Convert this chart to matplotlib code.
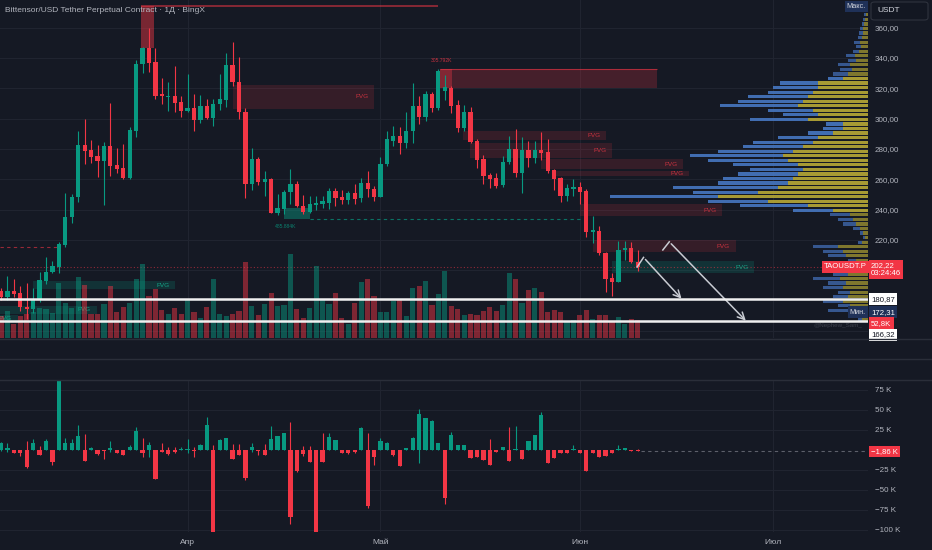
import numpy as np
import matplotlib
matplotlib.use('Agg')
import matplotlib.pyplot as plt
from matplotlib.patches import Rectangle, FancyBboxPatch
from matplotlib.lines import Line2D
from matplotlib.ticker import FuncFormatter

plt.rcParams['font.family'] = ['Liberation Sans', 'DejaVu Sans']

BG = '#151924'
GRID = '#212531'
TXT = '#b2b5be'
UP = '#089981'
DN = '#f23645'
NAVY = '#1f3158'

# daily candles, 3 Mar .. 10 Jun (index 0 = 3 Mar)
opens = [185.9, 182.0, 186.2, 184.7, 175.8, 174.1, 180.2, 193.0, 198.9, 201.9,
         216.6, 234.9, 248.1, 282.6, 279.3, 275.3, 272.0, 282.1, 269.2, 267.4,
         260.6, 292.0, 335.8, 346.4, 337.4, 316.0, 314.6, 315.0, 311.0, 305.0,
         307.2, 299.1, 308.3, 300.2, 309.4, 312.3, 335.2, 324.2, 304.6, 256.6,
         273.1, 258.2, 260.1, 237.9, 240.5, 251.4, 256.8, 242.5, 238.5, 243.0,
         243.8, 244.6, 252.2, 248.3, 246.3, 250.8, 247.4, 257.7, 253.3, 248.4,
         270.0, 285.1, 288.7, 283.7, 291.8, 308.3, 301.2, 316.0, 306.8, 318.0,
         320.0, 309.0, 293.6, 304.2, 285.2, 273.1, 262.8, 261.0, 256.2, 271.2,
         279.7, 263.9, 279.3, 274.2, 279.3, 277.8, 266.1, 260.6, 249.1, 253.6,
         255.0, 252.2, 225.0, 225.8, 211.5, 194.6, 192.3, 213.3, 214.8, 205.6]
highs = [188.0, 195.8, 194.0, 189.5, 191.3, 188.0, 199.0, 208.4, 206.0, 218.8,
         250.7, 250.2, 292.0, 299.5, 285.9, 282.6, 284.8, 310.5, 280.4, 283.2,
         294.7, 338.7, 347.5, 359.6, 346.4, 326.6, 324.4, 334.7, 315.0, 329.4,
         316.2, 315.6, 313.0, 313.0, 329.4, 343.5, 350.4, 340.5, 306.8, 280.8,
         274.9, 265.4, 260.6, 250.0, 252.9, 266.5, 258.8, 249.6, 248.9, 248.9,
         248.9, 254.0, 254.4, 252.9, 252.2, 256.8, 260.6, 265.6, 255.5, 274.9,
         291.8, 295.1, 294.2, 304.6, 323.3, 315.0, 318.2, 317.8, 332.5, 328.7,
         321.5, 312.0, 309.0, 307.9, 286.3, 276.0, 264.3, 263.9, 275.3, 288.5,
         292.9, 287.7, 285.4, 285.4, 291.4, 286.3, 266.5, 261.3, 256.8, 260.0,
         258.4, 253.3, 235.9, 229.3, 212.2, 197.9, 219.2, 219.2, 218.4, 213.3]
lows = [180.0, 180.0, 182.0, 173.2, 168.0, 172.0, 179.0, 191.0, 197.9, 197.9,
        215.4, 231.3, 245.2, 270.0, 270.5, 261.6, 243.0, 262.3, 264.3, 260.0,
        260.0, 288.0, 330.3, 331.0, 313.0, 309.4, 305.0, 304.5, 300.9, 304.2,
        292.0, 297.3, 299.5, 295.0, 305.7, 307.4, 321.5, 299.9, 247.4, 252.9,
        256.2, 248.9, 237.5, 236.4, 237.0, 243.6, 241.8, 237.0, 238.0, 239.7,
        240.8, 240.1, 242.5, 243.6, 243.6, 243.6, 245.0, 248.0, 245.6, 248.0,
        268.9, 281.9, 276.4, 280.4, 283.7, 296.2, 298.6, 304.6, 306.0, 312.0,
        303.5, 291.0, 292.0, 284.1, 267.6, 256.8, 254.0, 254.0, 255.0, 270.0,
        261.6, 250.7, 267.9, 270.9, 272.7, 264.3, 252.9, 245.0, 245.8, 248.9,
        243.6, 222.0, 218.0, 210.0, 185.7, 182.9, 192.0, 206.7, 204.5, 199.6]
closes = [182.0, 186.2, 184.4, 175.9, 174.1, 180.7, 193.4, 198.9, 202.4, 217.0,
          234.9, 248.5, 282.6, 278.8, 274.8, 272.2, 282.1, 268.9, 266.9, 260.6,
          292.5, 336.0, 346.4, 336.9, 315.1, 315.0, 315.2, 310.5, 305.0, 307.2,
          299.1, 308.3, 300.2, 309.6, 312.7, 335.2, 324.2, 304.6, 256.6, 273.1,
          258.4, 260.1, 237.9, 241.2, 251.8, 256.8, 242.5, 238.5, 243.6, 244.6,
          245.4, 252.2, 247.8, 246.3, 250.8, 247.0, 257.7, 253.3, 248.4, 270.0,
          286.3, 288.7, 283.7, 292.0, 308.3, 301.2, 316.0, 306.8, 331.5, 321.0,
          308.6, 293.6, 304.2, 284.8, 272.7, 262.3, 260.1, 255.7, 271.6, 279.7,
          263.9, 279.3, 274.2, 279.3, 277.5, 265.6, 260.1, 249.1, 254.0, 254.9,
          251.7, 225.0, 226.3, 211.1, 194.1, 192.3, 213.3, 214.8, 205.2, 202.22]
volume_k = [64, 79, 41, 64, 70, 76, 88, 85, 73, 161,
            103, 88, 179, 155, 70, 70, 100, 152, 76, 91,
            103, 173, 217, 123, 144, 82, 70, 88, 70, 114,
            76, 59, 91, 173, 70, 64, 70, 79, 223, 94,
            67, 100, 132, 94, 97, 246, 85, 59, 88, 211,
            111, 100, 132, 59, 41, 103, 164, 173, 123, 76,
            76, 108, 114, 64, 147, 152, 167, 97, 129, 196,
            94, 85, 67, 70, 67, 79, 91, 79, 97, 190,
            173, 103, 141, 147, 135, 76, 82, 76, 50, 53,
            67, 82, 56, 67, 67, 50, 62, 41, 56, 52.8]

# lower pane: delta candles (open at 0), in K
delta_close = [9, 2, -3.3, -4.2, -21, 8.3, -6.7, 11.7, -15, 86,
               9.2, 9.2, 17.5, -13.3, 2.5, -5, -1, 2.5, -4.2, -6.7,
               3.3, 24, -3.3, 6.3, -36.7, -2.5, -5, -2, 1.7, 1.2,
               -1.2, 5.8, 31, -102, 12.5, 14.6, -11.7, -6.7, -34.6, 4.2,
               -1.7, -6.7, 13.3, 17.5, 20.8, -84.2, -25.8, -5, -15.4, -102,
               -15.4, 16.7, 12.5, -4.2, -4, -3, 28, -70, -9, 11.7,
               9, -6, -20, 2.5, 15, 45, 40, 36.7, 9, -60.4,
               19, 6, 6, -9.6, -8.3, -12.5, -18.3, -3, 3.3, -13.3,
               0.8, -11.7, 10.8, 18.8, 43.3, -15.8, -10, -3.3, -4.2, 1,
               -3.3, -25.8, -3.3, -9.2, -7.5, -3.3, 1.2, 2.5, -1.7, -1.86]
delta_high = [10, 9, 0.5, 0, 11.7, 13.3, 5, 13.3, 0, 90,
              15.4, 13.8, 31, 20, 4, 0, 0, 11.3, 0, 0,
              6.3, 28.3, 14.6, 10, 0, 8.3, 3.3, 4.2, 3.3, 13.3,
              4.2, 7.5, 41.7, 6.3, 14.2, 15, 7.5, 7.5, 0, 8.3,
              0, 7.5, 30, 17.5, 20.8, 34.6, 0, 5, 5, 0,
              21.7, 20.8, 13, 0, 0, 0, 29, 21.7, 0, 14.6,
              10, 0, 0, 3, 16, 51.7, 40, 37, 9, 0,
              22.9, 6, 6, 0, 0, 0, 13.8, 0, 3.3, 29,
              30, 0, 10.8, 18.8, 48, 0, 0, 0, 0, 6.3,
              0, 0, 0, 0, 0, 0, 6, 2.5, 0, 1.7]
delta_low = [-1, -2.5, -3.3, -8, -23, 0, -6.7, 0, -18.8, 0,
             0, 0, 0, -13.3, 0, -6.7, -11.7, -2, -4.2, -6.7,
             0, 0, -9.2, -8.3, -36.7, -2.5, -6.7, -4.2, 0, -3.3,
             -8.3, 0, 0, -102, 0, 0, -11.7, -6.7, -37.5, -2.5,
             -6.3, -6.7, 0, 0, 0, -92.5, -27, -7.5, -15.4, -102,
             -15.4, 0, 0, -4.2, -4.5, -3.5, 0, -72, -18.8, 0,
             0, -7, -20, 0, 0, -16.7, 0, 0, 0, -68,
             0, 0, 0, -9.6, -8.3, -12.5, -18.3, -3, 0, -13.3,
             0, -11.7, 0, 0, 0, -15.8, -10, -3.3, -4.2, 0,
             -3.3, -26.5, -3.3, -9.2, -7.5, -3.3, 0, 0, -1.7, -1.86]

# visible range volume profile (3 USDT rows)
prof_levels = np.arange(167.5, 372, 3)
prof_total = [10, 15, 40, 30, 45, 35, 30, 45, 40, 55,
              35, 30, 25, 20, 40, 45, 55, 10, 5, 8,
              15, 25, 30, 38, 75, 128, 160, 258, 175, 195,
              150, 145, 130, 118, 135, 160, 178, 150, 125, 115,
              90, 60, 45, 42, 118, 85, 100, 148, 130, 120,
              100, 95, 88, 40, 35, 28, 30, 20, 22, 15,
              12, 14, 10, 9, 8, 6, 5, 4, 2]
prof_up = [6, 10, 20, 18, 25, 20, 18, 25, 22, 28,
           20, 18, 15, 12, 22, 25, 30, 6, 3, 5,
           8, 12, 15, 18, 35, 60, 100, 150, 110, 90,
           80, 75, 70, 65, 70, 80, 85, 75, 65, 55,
           50, 35, 25, 25, 60, 50, 55, 70, 65, 60,
           55, 50, 50, 25, 20, 16, 18, 12, 13, 9,
           7, 8, 6, 5, 5, 4, 3, 2, 1]

month_pos = [29, 59, 90, 120]
month_labels = ['Апр', 'Май', 'Июн', 'Июл']

last_price = 202.22
level_hi = 180.87
level_lo = 166.32

W, H = 932, 550
PLOT_R = 868
MAIN_BOT = 338
LOW_TOP, LOW_BOT = 380, 532
XLIM = (-0.16, 134.8)


def fx(x):
    return x / W


def fy(y):
    return 1 - y / H


def draw_candles(a, o, h, l, c, width=0.66):
    o, h, l, c = map(np.asarray, (o, h, l, c))
    x = np.arange(len(o))
    col = np.where(c >= o, UP, DN)
    a.vlines(x, l, h, colors=col, linewidth=0.8, zorder=3)
    body = np.maximum(np.abs(c - o), 0.5)
    a.bar(x, body, width, bottom=np.minimum(o, c), color=col, linewidth=0, zorder=4)


def box(a, x0, x1, p0, p1, color, alpha, label=None, lcolor=None):
    a.add_patch(Rectangle((x0, p0), x1 - x0, p1 - p0, facecolor=color,
                          alpha=alpha, linewidth=0, zorder=2))
    if label:
        a.text(x1 - 0.9, (p0 + p1) / 2, label, ha='right', va='center',
               fontsize=4.6, color=lcolor, zorder=2.5)


fig = plt.figure(figsize=(W / 100, H / 100), dpi=100, facecolor=BG)
ax = fig.add_axes([0, fy(MAIN_BOT), fx(PLOT_R), 1 - fy(MAIN_BOT)])
axd = fig.add_axes([0, fy(LOW_BOT), fx(PLOT_R), fy(LOW_TOP) - fy(LOW_BOT)])

# overlays on the price pane (created first, twinx would move the ticks left)
axv = ax.twinx()
axv.set_axis_off()
axp = ax.twiny()
axp.set_axis_off()

for a in (ax, axd):
    a.set_facecolor(BG)
    for s in a.spines.values():
        s.set_visible(False)
    a.set_xlim(*XLIM)
    a.set_xticks(month_pos)
    a.grid(True, color=GRID, linewidth=0.7, zorder=0)
    a.set_axisbelow(True)
    a.yaxis.tick_right()
    a.yaxis.set_label_position('right')
    a.tick_params(axis='y', left=False, right=False, labelleft=False,
                  labelright=True, length=0, pad=5, labelsize=5.8,
                  labelcolor=TXT)

# ---- main pane
ax.set_ylim(155.2, 378.3)
ax.set_yticks(np.arange(160, 361, 20))
ax.yaxis.set_major_formatter(FuncFormatter(
    lambda v, _: f'{v:.2f}'.replace('.', ',') if v >= 219 else ''))
ax.tick_params(axis='x', length=0, labelbottom=False, labeltop=False)

# FVG zones
red_fvg = [(36.1, 58.0, 306.5, 322.2), (71.8, 94.1, 285.7, 291.6),
           (72.9, 95.0, 274.2, 283.7), (84.0, 106.1, 266.7, 273.3),
           (85.8, 107.0, 262.3, 265.2), (90.0, 112.1, 235.7, 243.6),
           (92.1, 114.2, 211.7, 219.9)]
green_fvg = [(95.0, 117.1, 197.9, 206.0), (5.0, 27.1, 187.5, 192.5),
             (-0.2, 14.9, 171.1, 176.3), (-0.2, 2.6, 165.6, 170.3)]
for x0, x1, p0, p1 in red_fvg:
    box(ax, x0, x1, p0, p1, DN, 0.15, 'FVG', '#c8323f')
for x0, x1, p0, p1 in green_fvg:
    box(ax, x0, x1, p0, p1, UP, 0.2, 'FVG', '#14a386')

# order blocks / swing marks
box(ax, 21.8, 23.8, 346.6, 374.5, DN, 0.45)
ax.hlines(374.5, 21.8, 68, colors=DN, linewidth=1.2, alpha=0.6, zorder=2)
box(ax, 68.3, 102.0, 320.0, 332.5, DN, 0.22)
box(ax, 68.3, 70.1, 320.0, 332.5, DN, 0.35)
ax.hlines(332.5, 68.3, 102.0, colors=DN, linewidth=0.8, alpha=0.6, zorder=2)
ax.text(68.5, 338.5, '305.792K', ha='center', va='center', fontsize=3.6,
        color=DN, alpha=0.8)
box(ax, 44.0, 48.0, 233.5, 241.2, UP, 0.45)
ax.text(44.3, 228.8, '485.884K', ha='center', va='center', fontsize=3.6,
        color=UP, alpha=0.8)
ax.hlines(233.5, 48, 90, colors=UP, linestyles=(0, (3, 3)), linewidth=0.8,
          alpha=0.7, zorder=2)
ax.hlines(215.5, -0.2, 8.7, colors=DN, linestyles=(0, (3, 3)), linewidth=0.8,
          alpha=0.6, zorder=2)
ax.axhline(last_price, color=DN, linewidth=0.8, linestyle=(0, (1, 2)),
           alpha=0.55, zorder=2)

draw_candles(ax, opens, highs, lows, closes)

# projected path arrows
ARW = '#c9ccd3'
for pts in ([(98.9, 202.0), (99.9, 208.4), (106.1, 179.8)],
            [(102.9, 213.3), (103.9, 218.7), (116.1, 165.3)]):
    xs, ys = zip(*pts)
    ax.plot(xs[:2], ys[:2], color=ARW, linewidth=1.1, zorder=6)
    ax.annotate('', xy=pts[2], xytext=pts[1],
                arrowprops=dict(arrowstyle='->,head_length=0.5,head_width=0.25',
                                color=ARW, linewidth=1.1), zorder=6)

# volume overlay
axv.set_ylim(0, 990)
vcol = [UP if c >= o else DN for o, c in zip(opens, closes)]
axv.bar(np.arange(len(volume_k)), volume_k, 0.8, color=vcol, alpha=0.48,
        linewidth=0, zorder=1)

# volume profile on the right edge
axp.set_xlim(PLOT_R, 0)
prof_total = np.asarray(prof_total, float)
prof_up = np.asarray(prof_up, float)
in_va = (prof_levels > 238) & (prof_levels < 327)
blue = np.where(in_va, '#4677c1', '#3a5f9c')
yellow = np.where(in_va, '#b8a936', '#8c8230')
axp.barh(prof_levels, prof_up, height=2.1, left=0, color=yellow, linewidth=0,
         alpha=0.9, zorder=3)
axp.barh(prof_levels, prof_total - prof_up, height=2.1, left=prof_up,
         color=blue, linewidth=0, alpha=0.9, zorder=3)
for lvl in (level_hi, level_lo):
    axp.axhline(lvl, color='#f0f0f0', linewidth=1.8, zorder=8)

# price scale labels (drawn on the top overlay so the profile stays below)
tr = axp.get_yaxis_transform()
px = 1 / PLOT_R


def tag(a, t, x, y, text, fc, color, ha='left', va='center', fs=5.6, **kw):
    a.text(x, y, text, transform=t, ha=ha, va=va, fontsize=fs, color=color,
           bbox=dict(boxstyle='square,pad=0.3', fc=fc, ec='none'),
           zorder=12, clip_on=False, **kw)


tag(axp, tr, 1 - px, last_price, 'TAOUSDT.P', DN, 'white', ha='right')
tag(axp, tr, 1 + 3 * px, 205.4, '202,22\n03:24:46', DN, 'white', va='top',
    linespacing=1.15)
tag(axp, tr, 1 + 3 * px, level_hi, '180,87', '#ffffff', '#131722')
tag(axp, tr, 1 - 2 * px, 172.31, 'Мин.', NAVY, '#d1d4dc', ha='right', fs=5.2)
tag(axp, tr, 1 + 3 * px, 172.31, '172,31', NAVY, 'white')
tag(axp, tr, 1 + 3 * px, 165.0, '52,8K', DN, 'white')
tag(axp, tr, 1 + 3 * px, 157.3, '166,32', '#ffffff', '#131722')
tag(axp, tr, 1 - 2 * px, 373.8, 'Макс.', NAVY, '#d1d4dc', ha='right', fs=5.2)

fig.text(fx(838), fy(326), '@Nephew_Sam_', ha='center', va='center',
         fontsize=4.5, color='#3c404b')

# ---- lower pane (delta)
axd.set_ylim(-102.5, 87.5)
axd.set_yticks([-100, -75, -50, -25, 25, 50, 75])
axd.yaxis.set_major_formatter(FuncFormatter(
    lambda v, _: f'{int(v)} K'.replace('-', '−')))
axd.set_xticklabels(month_labels)
axd.tick_params(axis='x', length=0, pad=5, labelsize=6, labelcolor=TXT)
draw_candles(axd, np.zeros(len(delta_close)), delta_high, delta_low, delta_close)
axd.hlines(delta_close[-1], len(delta_close) - 0.5, XLIM[1], colors='#5d606b',
           linestyles=(0, (3, 3)), linewidth=0.8, zorder=2)
tag(axd, axd.get_yaxis_transform(), 1 + 3 * px, delta_close[-1], '−1,86 K',
    DN, 'white')

# pane separators and header
for y in (339, 359, 380):
    fig.add_artist(Line2D([0, 1], [fy(y), fy(y)], color='#2a2e39',
                          linewidth=1, transform=fig.transFigure))
fig.text(fx(5), fy(10), 'Bittensor/USD Tether Perpetual Contract · 1Д · BingX',
         ha='left', va='center', fontsize=6, color=TXT)
fig.add_artist(FancyBboxPatch((fx(871), fy(20)), fx(57), 18 / H,
                              boxstyle='round,pad=0,rounding_size=0.004',
                              transform=fig.transFigure, fc='#131722',
                              ec='#2f333e', linewidth=0.8))
fig.text(fx(877), fy(11), 'USDT', ha='left', va='center', fontsize=6,
         color='#d1d4dc')

fig.savefig('out.png', dpi=100, facecolor=BG)
